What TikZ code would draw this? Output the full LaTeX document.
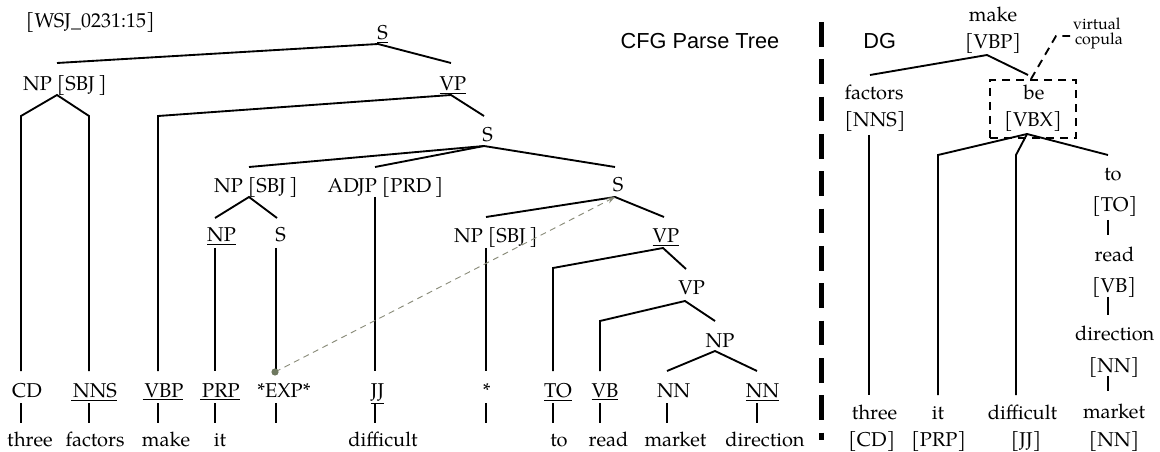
\documentclass[tikz,border=0pt]{standalone}
\usepackage{fontspec}
\setmainfont{TeX Gyre Pagella}
\newfontfamily\sansf{Liberation Sans}
\usetikzlibrary{arrows.meta}
\definecolor{refgray}{RGB}{138,140,122}
\definecolor{dotgreen}{RGB}{110,120,95}
\newcommand{\ul}[1]{\underline{\kern1.5pt#1}}
\begin{document}
\begin{tikzpicture}[x=0.75pt,y=-0.75pt,
  lab/.style={anchor=base,inner sep=0pt,outer sep=0pt,font=\fontsize{15}{18}\selectfont},
  small/.style={anchor=base west,inner sep=0pt,outer sep=0pt,font=\fontsize{12}{14}\selectfont},
  title/.style={anchor=base west,inner sep=0pt,outer sep=0pt,font=\sansf\fontsize{16.3}{19}\selectfont},
  edge/.style={line width=1.4pt},
  divider/.style={line width=3.4pt,dash pattern=on 18.5pt off 9.5pt},
  boxdash/.style={draw,line width=1.4pt,dash pattern=on 6pt off 4.5pt},
  trace/.style={refgray,line width=0.7pt,dash pattern=on 4.5pt off 3.5pt,-{Stealth[length=6pt,width=4.5pt]}}]
\useasboundingbox (0,0) rectangle (1160,452);

% ---------------- CFG labels ----------------
\node[lab,anchor=base west] (wsj) at (26,28) {[WSJ\_0231:15]};
\node[title] (cfg) at (620.7,48.3) {CFG Parse Tree};
\node[lab] (sTop) at (382.5,40) {\underline{S}};
\node[lab] (np1) at (65,91) {NP [SBJ\,]};
\node[lab] (vp1) at (453,91) {\underline{VP}};
\node[lab] (s2) at (487.5,142) {S};
\node[lab] (np2) at (256,193) {NP [SBJ\,]};
\node[lab] (adjp) at (385.5,193) {ADJP [PRD\,]};
\node[lab] (s3) at (618,192) {S};
\node[lab] (np3) at (221.5,242) {\underline{NP}};
\node[lab] (s4) at (280.5,242) {S};
\node[lab] (npS3) at (496,243) {NP [SBJ\,]};
\node[lab] (vp3) at (666,243) {\underline{VP}};
\node[lab] (vp4) at (691.7,295) {VP};
\node[lab] (np5) at (720,347) {NP};

% preterminals
\node[lab] (cd) at (27,397.5) {CD};
\node[lab] (nns) at (94,397.5) {\ul{NNS}};
\node[lab] (vbp) at (163,397.5) {\ul{VBP}};
\node[lab] (prp) at (220,397.5) {\ul{PRP}};
\node[lab] (exp) at (284,397.5) {*EXP*};
\node[lab] (jj) at (377.5,397.5) {\underline{JJ}};
\node[lab] (star) at (486.7,397.5) {*};
\node[lab] (to) at (558,397.5) {\underline{TO}};
\node[lab] (vb) at (605,397.5) {\underline{VB}};
\node[lab] (nn1) at (673.7,397.5) {NN};
\node[lab] (nn2) at (762.5,397.5) {\underline{NN}};

% words
\node[lab] (w1) at (30,446.5) {three};
\node[lab] (w2) at (95,446.5) {factors};
\node[lab] (w3) at (166,446.5) {make};
\node[lab] (w4) at (220,446.5) {it};
\node[lab] (w5) at (383,446.5) {difficult};
\node[lab] (w6) at (559,446.5) {to};
\node[lab] (w7) at (608.5,446.5) {read};
\node[lab] (w8) at (675.5,446.5) {market};
\node[lab] (w9) at (765,446.5) {direction};

% ---------------- CFG attachment points ----------------
\coordinate (sTop-a) at (378,44);
\coordinate (np1-t) at (57,63);
\coordinate (vp1-t) at (451,63);
\coordinate (np1-a) at (57,95);
\coordinate (cd-t) at (21,116);
\coordinate (nns-t) at (89,116);
\coordinate (vp1-a) at (451,95);
\coordinate (vbp-t) at (158,116);
\coordinate (s2-t) at (484,116);
\coordinate (s2-a) at (484,146);
\coordinate (np2-t) at (249,167);
\coordinate (adjp-t) at (375,167);
\coordinate (s3-t) at (615,167);
\coordinate (np2-a) at (249,197);
\coordinate (np3-t) at (215,218);
\coordinate (s4-t) at (277,218);
\coordinate (np3-a) at (215,248);
\coordinate (s4-a) at (276,248);
\coordinate (adjp-a) at (375,197);
\coordinate (s3-a) at (615,197);
\coordinate (npS3-t) at (486,217);
\coordinate (vp3-t) at (664,217);
\coordinate (npS3-a) at (486,248);
\coordinate (vp3-a) at (663,248);
\coordinate (to-t) at (553,268);
\coordinate (vp4-t) at (686,269);
\coordinate (vp4-a) at (685,301);
\coordinate (vb-t) at (600,321);
\coordinate (np5-t) at (715,321);
\coordinate (np5-a) at (715,351);
\foreach \n/\x in {cd/21,nns/89,vbp/158,prp/215,exp/276,jj/375,star/486,to/553,vb/600,nn1/667,nn2/757}{
  \coordinate (\n-b) at (\x,371);
  \coordinate (\n-u) at (\x,403);
  \coordinate (\n-d) at (\x,423);
}

% ---------------- CFG edges ----------------
\draw[edge] (np1-t) -- (sTop-a) -- (vp1-t);
\draw[edge] (cd-b) -- (cd-t) -- (np1-a) -- (nns-t) -- (nns-b);
\draw[edge] (vbp-b) -- (vbp-t) -- (vp1-a) -- (s2-t);
\draw[edge] (np2-t) -- (s2-a) -- (s3-t);
\draw[edge] (s2-a) -- (adjp-t);
\draw[edge] (np3-t) -- (np2-a) -- (s4-t);
\draw[edge] (np3-a) -- (prp-b);
\draw[edge] (s4-a) -- (exp-b);
\draw[edge] (adjp-a) -- (jj-b);
\draw[edge] (npS3-t) -- (s3-a) -- (vp3-t);
\draw[edge] (npS3-a) -- (star-b);
\draw[edge] (to-b) -- (to-t) -- (vp3-a) -- (vp4-t);
\draw[edge] (vb-b) -- (vb-t) -- (vp4-a) -- (np5-t);
\draw[edge] (nn1-b) -- (np5-a) -- (nn2-b);
\foreach \n in {cd,nns,vbp,prp,exp,jj,star,to,vb,nn1,nn2}{
  \draw[edge] (\n-u) -- (\n-d);
}

% trace
\coordinate (expdot) at (275,372);
\draw[trace] (expdot) -- (s3-a);
\fill[dotgreen] (expdot) circle (2.7pt);

% ---------------- divider ----------------
\coordinate (div-t) at (821.7,22);
\coordinate (div-b) at (821.7,440);
\draw[divider] (div-t) -- (div-b);

% ---------------- DG ----------------
\node[title] (dg) at (863.3,48.3) {DG};
\node[lab] (make) at (993,21.5) {make};
\node[lab] (vbpD) at (993,48.5) {[VBP]};
\node[lab] (fac) at (874,100) {factors};
\node[lab] (nnsD) at (875,127) {[NNS]};
\node[boxdash,minimum width=64.5pt,minimum height=43.5pt,inner sep=0pt] (vbox) at (1033,109) {};
\node[lab] (be) at (1034,100) {be};
\node[lab] (vbx) at (1033,127) {[VBX]};
\node[small] (virt) at (1073,30) {virtual};
\node[small] (cop) at (1075,45) {copula};
\node[lab] (toD) at (1113,181) {to};
\node[lab] (toP) at (1114.7,212) {[TO]};
\node[lab] (readD) at (1114.5,262) {read};
\node[lab] (vbD) at (1114,292) {[VB]};
\node[lab] (dirD) at (1114.8,340) {direction};
\node[lab] (nnD1) at (1114,372) {[NN]};
\node[lab] (mkD) at (1114,418.5) {market};
\node[lab] (nnD2) at (1114,446.5) {[NN]};
\node[lab] (threeD) at (874.5,419) {three};
\node[lab] (cdD) at (871.7,446.5) {[CD]};
\node[lab] (itD) at (938,419) {it};
\node[lab] (prpD) at (938.7,446.5) {[PRP]};
\node[lab] (diffD) at (1022.5,419) {difficult};
\node[lab] (jjD) at (1026,446.5) {[JJ]};

\coordinate (make-a) at (987,55);
\coordinate (fac-t) at (870,75);
\coordinate (be-t) at (1028,75);
\coordinate (fac-a) at (869,135);
\coordinate (three-t) at (869,395);
\coordinate (vbx-a) at (1027,134);
\coordinate (it-t) at (938,155);
\coordinate (it-b) at (938,395);
\coordinate (diff-t) at (1016,155);
\coordinate (diff-b) at (1016,395);
\coordinate (to2-t) at (1108,155);
\coordinate (lead-s) at (1031,79);
\coordinate (lead-m) at (1056,36);
\coordinate (lead-e) at (1070,36);

\draw[edge] (fac-t) -- (make-a) -- (be-t);
\draw[edge] (fac-a) -- (three-t);
\draw[edge] (it-b) -- (it-t) -- (vbx-a) -- (to2-t);
\draw[edge] (vbx-a) -- (diff-t) -- (diff-b);
\draw[edge] (1108,220) -- (1108,235);
\draw[edge] (1108,297) -- (1108,315);
\draw[edge] (1108,376) -- (1108,391);
\draw[line width=1.4pt,dash pattern=on 6pt off 4.5pt] (lead-s) -- (lead-m) -- (lead-e);
\end{tikzpicture}
\end{document}
